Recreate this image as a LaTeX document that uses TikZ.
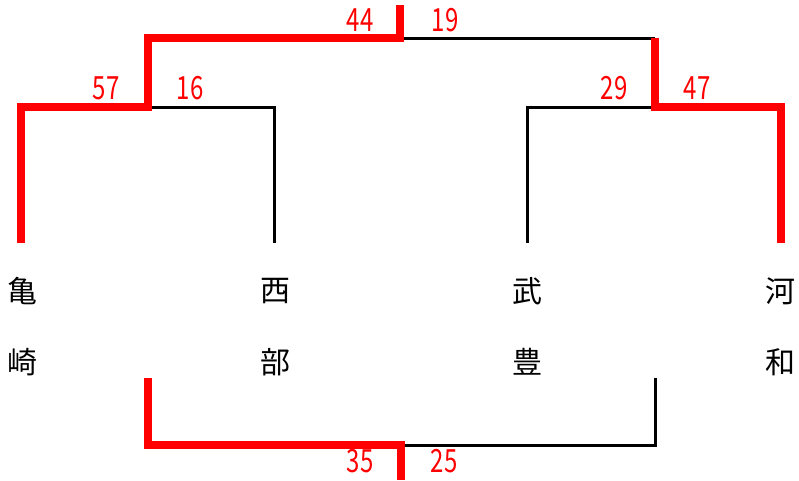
\documentclass[tikz,border=0pt]{standalone}
\usepackage{fontspec}
\newfontfamily\jp{Noto Sans CJK JP}
\definecolor{winred}{RGB}{255,0,0}
\begin{document}
\begin{tikzpicture}[x=1pt,y=-1pt,
  win/.style={draw=winred,line width=8pt,line join=miter},
  lose/.style={draw=black,line width=3pt,line join=miter},
  score/.style={text=winred,font=\jp\fontsize{32}{32}\selectfont,inner sep=0pt},
  team/.style={font=\jp\fontsize{30}{30}\selectfont,inner sep=0pt}]
\useasboundingbox (0,0) rectangle (799,480);
% coordinates
\coordinate (a0) at (21,243); \coordinate (a1) at (21,107);
\coordinate (b0) at (274,243); \coordinate (b1) at (274,107);
\coordinate (c0) at (527,243); \coordinate (c1) at (527,107);
\coordinate (d0) at (781,243); \coordinate (d1) at (781,107);
\coordinate (m1) at (148,107); \coordinate (m1t) at (148,38);
\coordinate (m2) at (655,107); \coordinate (m2t) at (655,38);
\coordinate (r) at (400,38); \coordinate (rt) at (400,5);
\coordinate (p0) at (148,378); \coordinate (p1) at (148,445);
\coordinate (q0) at (655,378); \coordinate (q1) at (655,445);
\coordinate (s) at (401,445); \coordinate (st) at (401,480);
% losers (black)
\draw[lose] (m1) -- (b1) -- (b0);
\draw[lose] (r) -- (m2t);
\draw[lose] (m2) -- (c1) -- (c0);
\draw[lose] (s) -- (q1) -- (q0);
% winners (red)
\draw[win] (a0) -- (a1) -- (m1) -- (m1t) -- (r) -- (rt);
\draw[win] (d0) -- (d1) -- (m2) -- (m2t);
\draw[win] (p0) -- (p1) -- (s) -- (st);
% scores
\node[score] (s44) at (360,20) {\scalebox{0.75}[1]{44}};
\node[score] (s19) at (445,20) {\scalebox{0.75}[1]{19}};
\node[score] (s57) at (106,88) {\scalebox{0.75}[1]{57}};
\node[score] (s16) at (190,88) {\scalebox{0.75}[1]{16}};
\node[score] (s29) at (614,88) {\scalebox{0.75}[1]{29}};
\node[score] (s47) at (697,88) {\scalebox{0.75}[1]{47}};
\node[score] (s35) at (360,461) {\scalebox{0.75}[1]{35}};
\node[score] (s25) at (444,461) {\scalebox{0.75}[1]{25}};
% teams
\node[team] (t1a) at (22,291) {亀};
\node[team] (t1b) at (22,362) {崎};
\node[team] (t2a) at (275,291) {西};
\node[team] (t2b) at (275,362) {部};
\node[team] (t3a) at (527,291) {武};
\node[team] (t3b) at (527,362) {豊};
\node[team] (t4a) at (780,291) {河};
\node[team] (t4b) at (780,362) {和};
\end{tikzpicture}
\end{document}
